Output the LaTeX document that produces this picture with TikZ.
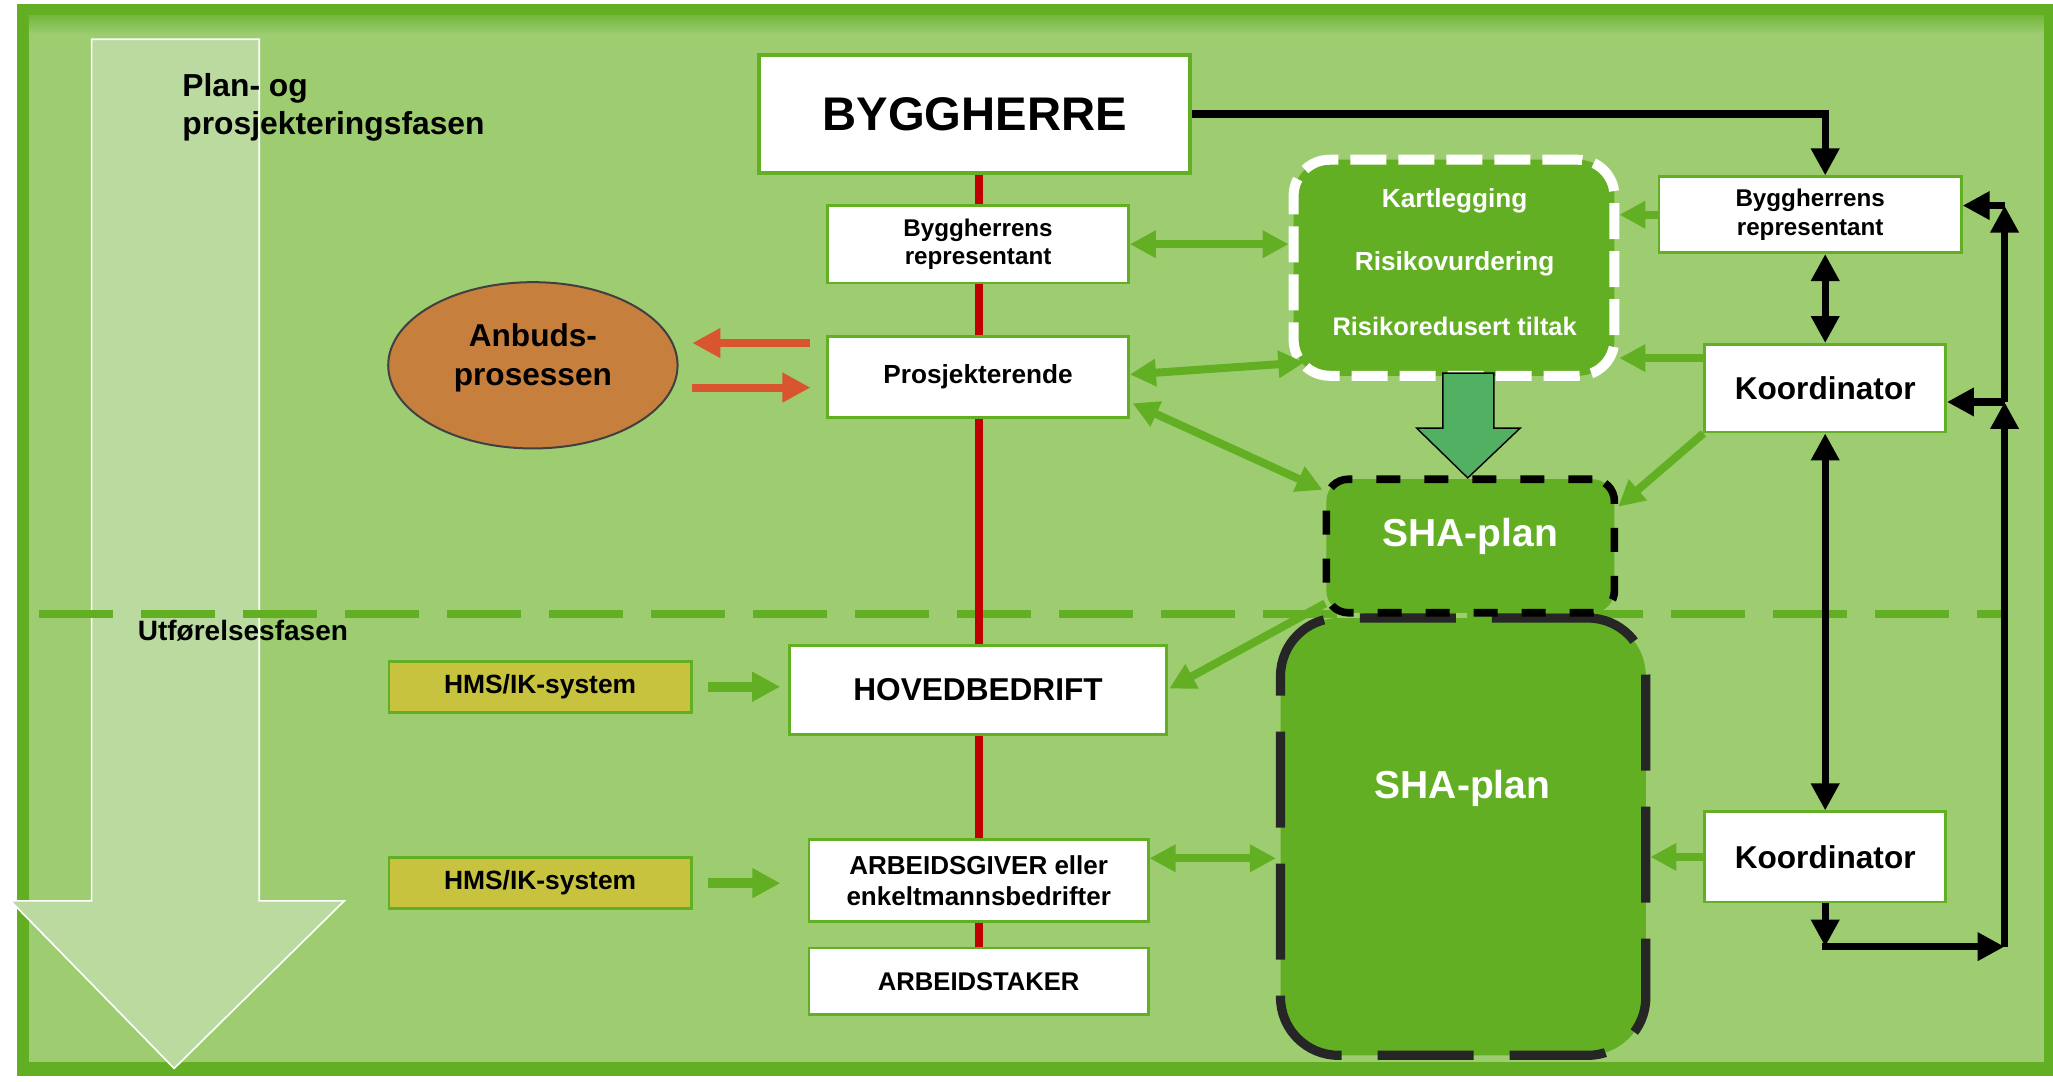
\documentclass[tikz,border=0pt]{standalone}
\usepackage{fontspec}
\setmainfont{Liberation Sans}
\usetikzlibrary{arrows.meta,shapes.geometric,calc}
\definecolor{dkgreen}{HTML}{62AF23}
\definecolor{ltgreen}{HTML}{9DCC71}
\definecolor{paleg}{HTML}{BBDAA0}
\definecolor{hmsfill}{HTML}{C8C33F}
\definecolor{ellfill}{HTML}{C77F3E}
\definecolor{redl}{HTML}{C00000}
\definecolor{orng}{HTML}{D95530}
\definecolor{blockg}{HTML}{52B062}
\definecolor{dkgray}{HTML}{262626}
\pgfdeclarelayer{bg}
\pgfdeclarelayer{mid}
\pgfsetlayers{bg,mid,main}
\def\pxu{0.6547pt}
\begin{document}
\begin{tikzpicture}[x=0.6547pt,y=-0.6547pt,
  wbox/.style={draw=dkgreen, line width=1.3pt, fill=white, inner sep=0pt, align=center},
  hmsbox/.style={draw=dkgreen, line width=1.3pt, fill=hmsfill, inner sep=0pt, align=center,
    minimum width=231*\pxu, minimum height=39*\pxu, font=\bfseries\fontsize{13.2}{15.8}\selectfont},
  wtext/.style={text=white, inner sep=0pt},
  garrow/.style={draw=dkgreen, line width=4pt, -{Triangle[length=13pt,width=13pt]}},
  gdarrow/.style={draw=dkgreen, line width=4pt, {Triangle[length=13pt,width=13pt]}-{Triangle[length=13pt,width=13pt]}},
  harrow/.style={draw=dkgreen, line width=5pt, -{Triangle[length=14pt,width=14pt]}},
  barrow/.style={draw=black, line width=3.7pt, -{Triangle[length=13.5pt,width=13.5pt]}},
  bdarrow/.style={draw=black, line width=3.7pt, {Triangle[length=13.5pt,width=13.5pt]}-{Triangle[length=13.5pt,width=13.5pt]}},
  rarrow/.style={draw=orng, line width=4pt, -{Triangle[length=14pt,width=14pt]}}
]
\useasboundingbox (0,0) rectangle (1568,826);
\begin{pgfonlayer}{bg}
  \fill[white] (0,0) rectangle (1568,826);
  \fill[dkgreen] (13,3) rectangle (1568,822);
  \fill[ltgreen] (22,11.5) rectangle (1561,811);
  \shade[top color=dkgreen!70!ltgreen, bottom color=ltgreen] (22,11.5) rectangle (1561,26);
  \filldraw[fill=paleg, draw=white, line width=0.8pt]
    (70,30) -- (198,30) -- (198,688) -- (263,688) -- (133,816) -- (8,688) -- (70,688) -- cycle;
  \draw[dkgreen, line width=4.4pt, dash pattern=on 37pt off 14pt] (30,469) -- (1530,469);
\end{pgfonlayer}

% phase labels
\node[anchor=west, align=left, inner sep=0pt, font=\bfseries\fontsize{15.9}{19}\selectfont] (ph1) at (139,82) {Plan- og\\prosjekteringsfasen};
\node[anchor=west, inner sep=0pt, font=\bfseries\fontsize{14}{17}\selectfont] (ph2) at (105,482) {Utførelsesfasen};

% central column
\node[wbox, line width=2pt, minimum width=329*\pxu, minimum height=90*\pxu, font=\bfseries\fontsize{23.6}{28}\selectfont] (bh) at (744.5,87) {BYGGHERRE};
\node[wbox, minimum width=230*\pxu, minimum height=59*\pxu, font=\bfseries\fontsize{12.1}{14.4}\selectfont] (brl) at (747,186.5) {Byggherrens\\representant};
\node[wbox, minimum width=230*\pxu, minimum height=62*\pxu, font=\bfseries\fontsize{13.1}{15.7}\selectfont] (pro) at (747,288) {Prosjekterende};
\node[wbox, minimum width=288*\pxu, minimum height=68*\pxu, font=\bfseries\fontsize{15.8}{19}\selectfont] (hov) at (747,527) {HOVEDBEDRIFT};
\node[wbox, minimum width=259*\pxu, minimum height=63*\pxu, font=\bfseries\fontsize{13}{15.7}\selectfont] (arb) at (747.5,672.5) {ARBEIDSGIVER eller\\enkeltmannsbedrifter};
\node[wbox, minimum width=259*\pxu, minimum height=51*\pxu, font=\bfseries\fontsize{12.8}{15.4}\selectfont] (ast) at (747.5,749.5) {ARBEIDSTAKER};

% HMS boxes
\node[hmsbox] (hms1) at (412.5,524.5) {HMS/IK-system};
\node[hmsbox] (hms2) at (412.5,674.5) {HMS/IK-system};

% ellipse
\node[ellipse, draw=black!75, line width=1pt, fill=ellfill, minimum width=221*\pxu, minimum height=127*\pxu, inner sep=0pt] (anb) at (407,279) {};
\node[align=center, inner sep=0pt, font=\bfseries\fontsize{15.8}{19.6}\selectfont] (anbt) at (407,273) {Anbuds-\\prosessen};

% risk box
\node[draw=white, line width=5pt, dash pattern=on 18pt off 6pt, fill=dkgreen, rounded corners=18pt,
  minimum width=245*\pxu, minimum height=165*\pxu, inner sep=0pt] (kart) at (1110.5,204.5) {};
\node[wtext, font=\bfseries\fontsize{13.1}{15.7}\selectfont] (kt1) at (1111,153.5) {Kartlegging};
\node[wtext, font=\bfseries\fontsize{13.1}{15.7}\selectfont] (kt2) at (1111,201.5) {Risikovurdering};
\node[wtext, font=\bfseries\fontsize{12.7}{15.2}\selectfont] (kt3) at (1111,249.5) {Risikoredusert tiltak};

% SHA plans
\node[draw=dkgray, line width=4.6pt, dash pattern=on 48pt off 18pt, fill=dkgreen, rounded corners=29pt,
  minimum width=279*\pxu, minimum height=334*\pxu, inner sep=0pt] (sha2) at (1117.5,639) {};
\node[wtext, font=\bfseries\fontsize{19.5}{23}\selectfont] (sha2t) at (1117,602) {SHA-plan};
\node[draw=black, line width=3.8pt, dash pattern=on 12pt off 12pt, fill=dkgreen, rounded corners=11pt,
  minimum width=220*\pxu, minimum height=102*\pxu, inner sep=0pt] (sha1) at (1123,417) {};
\node[wtext, font=\bfseries\fontsize{19.5}{23}\selectfont] (sha1t) at (1123,410) {SHA-plan};

% right column
\node[wbox, minimum width=231*\pxu, minimum height=58*\pxu, font=\bfseries\fontsize{12.1}{14.4}\selectfont] (brr) at (1382.5,164) {Byggherrens\\representant};
\node[wbox, minimum width=184*\pxu, minimum height=67*\pxu, font=\bfseries\fontsize{15.8}{19}\selectfont] (k1) at (1394,296.5) {Koordinator};
\node[wbox, minimum width=184*\pxu, minimum height=69*\pxu, font=\bfseries\fontsize{15.8}{19}\selectfont] (k2) at (1394,654.5) {Koordinator};

% block arrow (kart -> sha1)
\filldraw[fill=blockg, draw=black, line width=0.7pt]
  (1102,285) -- (1141,285) -- (1141,327) -- (1161,327) -- (1121,365) -- (1082,327) -- (1102,327) -- cycle;

% red vertical line
\begin{pgfonlayer}{mid}
  \draw[redl, line width=4.2pt] (ast.north |- bh.south) -- (ast.north);
\end{pgfonlayer}

% red arrows
\coordinate (ra) at ([shift={(-12,-26)}]pro.west);
\coordinate (rb) at ([shift={(-12,8)}]pro.west);
\draw[rarrow, shorten >=6.9pt] (ra) -- (ra -| anb.east);
\draw[rarrow, shorten <=6.9pt] (rb -| anb.east) -- (rb);

% HMS arrows
\draw[harrow, shorten <=7.9pt, shorten >=4pt] (hms1.east) -- (hms1.east -| hov.west);
\draw[harrow, shorten <=7.9pt, shorten >=13.7pt] (hms2.east) -- (hms2.east -| arb.west);

% green connectors
\draw[gdarrow] (brl.east) -- (brl.east -| kart.west);
\draw[gdarrow] ([shift={(0,-2)}]pro.east) -- ([shift={(12,-14)}]kart.south west);
\draw[gdarrow] ([shift={(2,20)}]pro.east) -- ([shift={(0,11)}]sha1.north west);
\coordinate (brw) at (brr.west);
\draw[garrow] (brw) -- (brw -| kart.east);
\coordinate (k1w) at ([shift={(0,-23)}]k1.west);
\draw[garrow] (k1w) -- (k1w -| kart.east);
\draw[garrow] (k1.south west) -- ([shift={(0,-30)}]sha1.east);
\draw[garrow] ([shift={(2,-10)}]sha1.south west) -- ([shift={(1,-1)}]hov.east);
\coordinate (arw) at ([shift={(0,-17)}]arb.east);
\draw[gdarrow] (arw) -- (arw -| sha2.west);
\draw[garrow] (k2.west) -- (k2.west -| sha2.east);

% black connectors
\draw[barrow] (bh.east) -| (k1.north |- brr.north);
\draw[bdarrow] (k1.north |- brr.south) -- (k1.north);
\draw[bdarrow] (k1.south) -- (k2.north);
\coordinate (rail) at (1531,0);
\coordinate (c1) at ([shift={(0,33)}]k2.south);
\coordinate (k1r) at ([shift={(0,10.5)}]k1.east);
\coordinate (brrr) at ([shift={(0,-7)}]brr.east);
\draw[barrow] (k2.south) -- (c1);
\draw[barrow, line cap=rect] (c1) -- (c1 -| rail);
\draw[barrow] (c1 -| rail) -- (k1r -| rail);
\draw[barrow] (k1r -| rail) -- (k1r);
\draw[barrow] (k1r -| rail) -- (brrr -| rail);
\draw[barrow] (brrr -| rail) -- (brrr);
\end{tikzpicture}
\end{document}
